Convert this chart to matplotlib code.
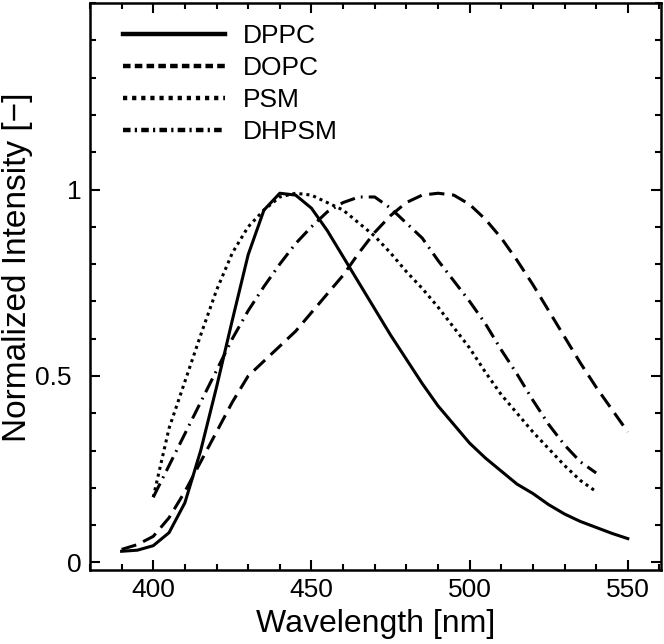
import matplotlib
matplotlib.use('Agg')
import matplotlib.pyplot as plt
import matplotlib.transforms as mtransforms
import numpy as np
from matplotlib.ticker import MultipleLocator, FuncFormatter
from matplotlib.lines import Line2D

plt.rcParams['font.family'] = ['Liberation Sans', 'DejaVu Sans']

# Wavelength grids (nm)
wl_long = np.arange(390, 551, 5)
wl_short = np.arange(400, 541, 5)

# Normalized emission spectra
dppc = [0.030, 0.033, 0.045, 0.080, 0.160, 0.300, 0.470, 0.650, 0.825, 0.945,
        0.990, 0.985, 0.950, 0.890, 0.820, 0.750, 0.680, 0.610, 0.545, 0.480,
        0.420, 0.370, 0.320, 0.280, 0.245, 0.210, 0.185, 0.155, 0.130, 0.110,
        0.094, 0.078, 0.064]
dopc = [0.035, 0.048, 0.070, 0.120, 0.190, 0.270, 0.350, 0.430, 0.500, 0.540,
        0.580, 0.620, 0.670, 0.720, 0.770, 0.830, 0.885, 0.930, 0.965, 0.985,
        0.990, 0.985, 0.960, 0.920, 0.870, 0.810, 0.745, 0.675, 0.605, 0.535,
        0.470, 0.410, 0.350]
psm = [0.175, 0.360, 0.485, 0.610, 0.730, 0.830, 0.900, 0.945, 0.980, 0.990,
       0.985, 0.965, 0.945, 0.910, 0.875, 0.830, 0.780, 0.735, 0.685, 0.630,
       0.575, 0.510, 0.450, 0.400, 0.350, 0.305, 0.260, 0.220, 0.190]
dhpsm = [0.175, 0.260, 0.345, 0.430, 0.515, 0.600, 0.675, 0.740, 0.800, 0.855,
         0.900, 0.940, 0.965, 0.980, 0.980, 0.950, 0.910, 0.870, 0.810, 0.755,
         0.700, 0.640, 0.570, 0.505, 0.435, 0.370, 0.315, 0.270, 0.240]

labels = ['DPPC', 'DOPC', 'PSM', 'DHPSM']
styles = ['-', (0, (5, 2.5)), (0, (1, 1.3)), (0, (5, 2, 0.6, 2))]

fig = plt.figure(figsize=(6.64, 6.44), dpi=100)
ax = fig.add_axes([0.1355, 0.115, 0.86, 0.8803])

series = [(wl_long, dppc), (wl_long, dopc), (wl_short, psm), (wl_short, dhpsm)]
for (x, y), ls in zip(series, styles):
    ax.plot(x, y, color='black', lw=2.2, linestyle=ls)

ax.set_xlim(380, 560.5)
ax.set_ylim(-0.02, 1.5)
ax.xaxis.set_major_locator(MultipleLocator(50))
ax.xaxis.set_minor_locator(MultipleLocator(10))
ax.yaxis.set_minor_locator(MultipleLocator(0.1))
ax.set_yticks([0, 0.5, 1])
ax.yaxis.set_major_formatter(FuncFormatter(lambda v, p: f'{v:g}'))

ax.tick_params(which='both', direction='in', top=True, right=True,
               labelsize=19, width=1.5, pad=6)
ax.tick_params(which='major', length=7)
ax.tick_params(which='minor', length=4.5)
for s in ax.spines.values():
    s.set_linewidth(1.8)

# the "0.5" label sits a little further left in the original
fig.canvas.draw()
shift = mtransforms.ScaledTranslation(-10 / 100, 0, fig.dpi_scale_trans)
for lbl in ax.get_yticklabels():
    if lbl.get_text() == '0.5':
        lbl.set_transform(lbl.get_transform() + shift)

ax.set_xlabel('Wavelength [nm]', fontsize=23, labelpad=5)
ax.set_ylabel('Normalized Intensity [−]', fontsize=24)
ax.yaxis.set_label_coords(-0.1, 0.534)

handles = [Line2D([], [], color='black', lw=3.2, linestyle=ls) for ls in
           ['-', (0, (1.7, 0.95)), (0, (0.95, 1.1)), (0, (1.7, 0.95, 0.5, 0.95))]]
ax.legend(handles, labels, loc='upper left', frameon=False, fontsize=19,
          handlelength=3.86, handletextpad=0.68, labelspacing=0.31,
          borderaxespad=0.0, bbox_to_anchor=(0.0395, 0.982))

fig.savefig('out.png', dpi=100)
